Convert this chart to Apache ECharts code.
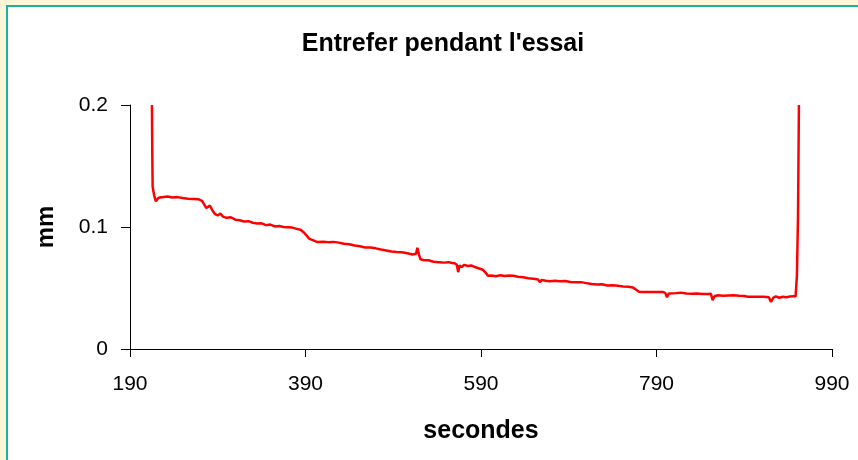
<!DOCTYPE html>
<html>
<head>
<meta charset="utf-8">
<script src="https://cdn.jsdelivr.net/npm/echarts@6/dist/echarts.min.js"></script>
<style>
  html, body { margin: 0; padding: 0; background: #fdf5d6; }
  #frame { position: absolute; left: 6px; top: 5px; width: 900px; height: 500px;
           background: #fff; border-left: 2px solid #1aafaf; border-top: 2px solid #1aafaf; }
  #main { position: absolute; left: 0; top: 0; width: 858px; height: 460px; }
</style>
</head>
<body>
<div id="frame"></div>
<div id="main"></div>
<script>
// temps (s) et entrefer (mm)
const temps = [
  215.0, 215.4, 215.8, 217.5, 219.5, 220.5, 222.5, 224, 228, 233, 238, 244, 250, 256, 262, 268,
  272, 275, 277, 279, 281, 284, 287, 290, 293, 296, 300, 305, 310, 315, 320, 325, 330, 335, 340,
  345, 350, 355, 360, 365, 370, 375, 380, 385, 388, 390, 392, 394, 396, 399, 403, 410, 416, 422,
  428, 434, 440, 446, 452, 458, 464, 470, 476, 482, 488, 494, 500, 506, 512, 516, 517.5, 518.5,
  519.5, 521, 525, 530, 536, 542, 548, 553, 557, 560, 562.5, 564, 565.5, 568, 571, 575, 579, 583,
  588, 592, 595, 598, 602, 607, 612, 617, 622, 627, 632, 638, 644, 650, 655, 657, 659, 664, 669,
  674, 680, 686, 692, 698, 704, 710, 716, 722, 728, 734, 740, 746, 752, 758, 763, 766, 770, 775,
  782, 790, 797, 800, 802, 804, 806, 812, 818, 824, 830, 836, 842, 848, 852, 854, 856, 860, 866,
  872, 878, 884, 890, 894, 900, 906, 912, 918, 920.5, 923, 926, 930, 934, 938, 942, 946, 948.5,
  950, 951.3, 952.3
];
const entrefer = [
  0.200, 0.160, 0.133, 0.126, 0.121, 0.120, 0.124, 0.1255, 0.1245, 0.125, 0.1242, 0.1245, 0.1238,
  0.1232, 0.123, 0.1228, 0.1215, 0.118, 0.1155, 0.117, 0.1175, 0.1135, 0.1105, 0.1095, 0.111,
  0.1085, 0.1075, 0.108, 0.106, 0.1055, 0.1045, 0.1048, 0.1035, 0.1028, 0.103, 0.1015, 0.102,
  0.1005, 0.1008, 0.1, 0.0998, 0.0995, 0.0985, 0.0975, 0.0955, 0.094, 0.0925, 0.0905, 0.092,
  0.089, 0.0878, 0.088, 0.0876, 0.0878, 0.0872, 0.0862, 0.0858, 0.0848, 0.0842, 0.0832, 0.0832,
  0.0825, 0.0815, 0.0808, 0.08, 0.0796, 0.0793, 0.0785, 0.0775, 0.078, 0.083, 0.0835, 0.077,
  0.0735, 0.0728, 0.0727, 0.0715, 0.0712, 0.0708, 0.0712, 0.0705, 0.0703, 0.069, 0.063, 0.0685,
  0.0672, 0.069, 0.068, 0.0685, 0.0672, 0.066, 0.065, 0.0628, 0.06, 0.0603, 0.0597, 0.0605,
  0.0598, 0.0603, 0.06, 0.0592, 0.0588, 0.058, 0.0575, 0.057, 0.0548, 0.0565, 0.056, 0.0556,
  0.056, 0.0555, 0.0558, 0.055, 0.0548, 0.0548, 0.054, 0.0532, 0.0528, 0.053, 0.052, 0.0522,
  0.0518, 0.0513, 0.051, 0.0505, 0.049, 0.047, 0.0468, 0.0468, 0.0468, 0.0468, 0.046, 0.0425,
  0.0455, 0.047, 0.0458, 0.0462, 0.0455, 0.0452, 0.0454, 0.045, 0.045, 0.0452, 0.04, 0.0432,
  0.044, 0.0436, 0.0438, 0.044, 0.0436, 0.0434, 0.0428, 0.0428, 0.0428, 0.0428, 0.0425, 0.0385,
  0.042, 0.0432, 0.042, 0.0428, 0.0425, 0.043, 0.0432, 0.0432, 0.06, 0.11, 0.2
];
const xTicks = [190, 390, 590, 790, 990];

const FONT = 'Liberation Sans, Arial, sans-serif';

const chart = echarts.init(document.getElementById('main'), null, { renderer: 'canvas' });
chart.setOption({
  backgroundColor: 'transparent',
  animation: false,
  graphic: [{
    type: 'text',
    x: 443,
    y: 44,
    style: {
      text: "Entrefer pendant l'essai",
      font: 'bold 25px ' + FONT,
      fill: '#000',
      textAlign: 'center',
      textVerticalAlign: 'middle'
    }
  }],
  grid: { left: 130, right: 26, top: 105, bottom: 111 },
  xAxis: {
    type: 'value',
    min: 190,
    max: 990,
    name: 'secondes',
    nameLocation: 'middle',
    nameGap: 70,
    nameTextStyle: { fontFamily: FONT, fontSize: 25, fontWeight: 'bold', color: '#000' },
    axisLine: { lineStyle: { color: '#000', width: 1 } },
    axisTick: { show: true, length: 8, lineStyle: { color: '#000' }, customValues: xTicks },
    axisLabel: { margin: 25, fontFamily: FONT, fontSize: 21, color: '#000', customValues: xTicks },
    splitLine: { show: false }
  },
  yAxis: {
    type: 'value',
    min: 0,
    max: 0.2,
    interval: 0.1,
    name: 'mm',
    nameLocation: 'middle',
    nameGap: 72,
    nameTextStyle: { fontFamily: FONT, fontSize: 24, fontWeight: 'bold', color: '#000' },
    axisLine: { show: true, lineStyle: { color: '#000', width: 1 } },
    axisTick: { show: true, length: 9, lineStyle: { color: '#000' } },
    axisLabel: { margin: 22, fontFamily: FONT, fontSize: 21, color: '#000' },
    splitLine: { show: false }
  },
  series: [{
    type: 'line',
    data: temps.map((t, i) => [t, entrefer[i]]),
    showSymbol: false,
    clip: true,
    lineStyle: { color: '#ff0000', width: 2.5 }
  }]
});
</script>
</body>
</html>
